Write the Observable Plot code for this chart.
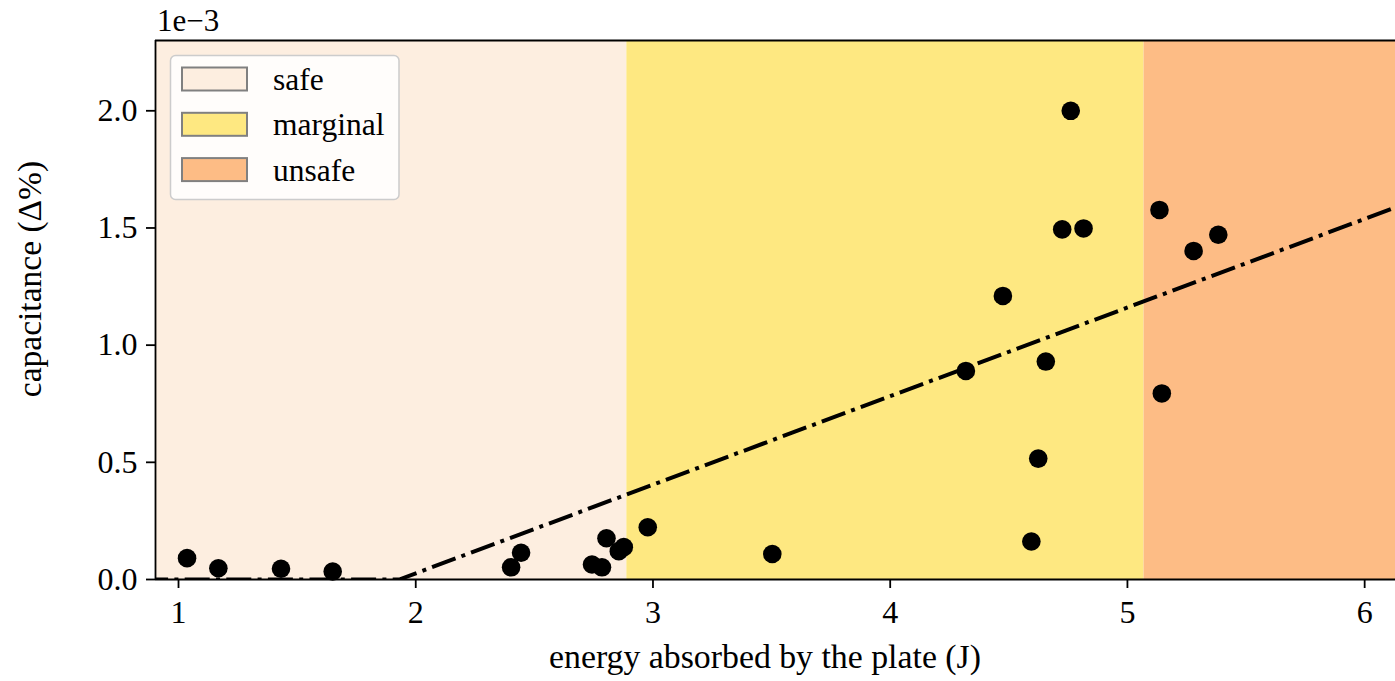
<!DOCTYPE html>
<html>
<head>
<meta charset="utf-8">
<script src="https://cdn.jsdelivr.net/npm/d3@7"></script>
<script src="https://cdn.jsdelivr.net/npm/@observablehq/plot@0.6"></script>
<style>
  html, body { margin: 0; padding: 0; background: #fff; }
  #chart { width: 1395px; height: 681px; }
</style>
</head>
<body>
<div id="chart"></div>
<script>
// ---- data ----
const energy = [1.036, 1.168, 1.432, 1.650, 2.402, 2.444, 2.743, 2.785, 2.804, 2.856, 2.877, 2.978,
                3.503, 4.319, 4.475, 4.595, 4.624, 4.656, 4.725, 4.761, 4.815, 5.135, 5.145, 5.279, 5.383];
const capacitance = [0.091, 0.048, 0.046, 0.034, 0.052, 0.114, 0.064, 0.052, 0.176, 0.121, 0.138, 0.223,
                     0.109, 0.890, 1.210, 0.162, 0.516, 0.930, 1.494, 2.000, 1.498, 1.577, 0.794, 1.402, 1.471];
const fitX = [0.5, 1.93, 6.3];
const fitY = [0, 0, 1.652];
const zoneNames = ["safe", "marginal", "unsafe"];
const zoneStart = [0.5, 2.89, 5.07];
const zoneEnd = [2.89, 5.07, 7.0];
const zoneColors = ["#fdeee0", "#fee881", "#fdbc85"];
const xTicks = [1, 2, 3, 4, 5, 6];
const yTicks = [0, 0.5, 1.0, 1.5, 2.0];
const xDomain = [0.903, 6.13];
const yDomain = [0, 2.3];
const xLabel = "energy absorbed by the plate (J)";
const yLabel = "capacitance (Δ%)";
const yExponent = "1e−3";

// ---- tables ----
const points = energy.map((e, i) => ({x: e, y: capacitance[i]}));
const fit = fitX.map((x, i) => ({x, y: fitY[i]}));
const zones = zoneNames.map((n, i) => ({name: n, x1: zoneStart[i], x2: zoneEnd[i], color: zoneColors[i]}));

const W = 1395, H = 681;
const mL = 155, mR = 0, mT = 40, mB = 102;
const FONT = "'Liberation Serif', 'Times New Roman', serif";

const plot = Plot.plot({
  width: W, height: H,
  marginLeft: mL, marginRight: mR, marginTop: mT, marginBottom: mB,
  style: {fontFamily: FONT, fontSize: "32px", background: "#fff", color: "#000", overflow: "visible"},
  x: {domain: xDomain},
  y: {domain: yDomain},
  color: {type: "identity"},
  marks: [
    Plot.rect(zones, {x1: "x1", x2: "x2", fill: "color", clip: true}),
    Plot.line(fit, {x: "x", y: "y", stroke: "#000", strokeWidth: 4, strokeDasharray: "25,6.3,4,6.3", strokeLinecap: "butt", clip: true}),
    Plot.dot(points, {x: "x", y: "y", r: 9.3, fill: "#000", stroke: "none"}),
    Plot.ruleY([yDomain[1]], {stroke: "#000", strokeWidth: 1.8}),
    Plot.ruleY([yDomain[0]], {stroke: "#000", strokeWidth: 1.8}),
    Plot.ruleX([xDomain[0]], {stroke: "#000", strokeWidth: 1.8}),
    Plot.axisX({ticks: xTicks, tickSize: 9, tickPadding: 12, tickFormat: d => String(d), label: null, strokeWidth: 1.8}),
    Plot.axisY({ticks: yTicks, tickSize: 9, tickPadding: 9, tickFormat: d3.format(".1f"), label: null, strokeWidth: 1.8})
  ]
});

document.getElementById("chart").appendChild(plot);

// ---- extra text & legend via d3 ----
const svg = d3.select(plot);
const g = svg.append("g").attr("font-family", FONT).attr("fill", "#000").attr("text-anchor", "start");

g.append("text").attr("x", 157).attr("y", 31).attr("font-size", 31).attr("text-anchor", "start").text(yExponent);

g.append("text").attr("x", 765).attr("y", 668).attr("font-size", 33.8)
  .attr("text-anchor", "middle").text(xLabel);

g.append("text").attr("transform", "translate(41,279) rotate(-90)").attr("font-size", 33.5)
  .attr("text-anchor", "middle").text(yLabel);

const lg = g.append("g");
lg.append("rect").attr("x", 170.5).attr("y", 55.5).attr("width", 228.5).attr("height", 144)
  .attr("rx", 5).attr("fill", "rgba(255,255,255,0.85)").attr("stroke", "#cccccc").attr("stroke-width", 1.5);
zones.forEach((z, i) => {
  const cy = 79 + i * 45.3;
  lg.append("rect").attr("x", 182).attr("y", cy - 11.5).attr("width", 65).attr("height", 23)
    .attr("fill", z.color).attr("stroke", "#808080").attr("stroke-width", 2);
  lg.append("text").attr("x", 273).attr("y", cy + 11).attr("font-size", 31.5)
    .attr("text-anchor", "start").text(z.name);
});
</script>
</body>
</html>
